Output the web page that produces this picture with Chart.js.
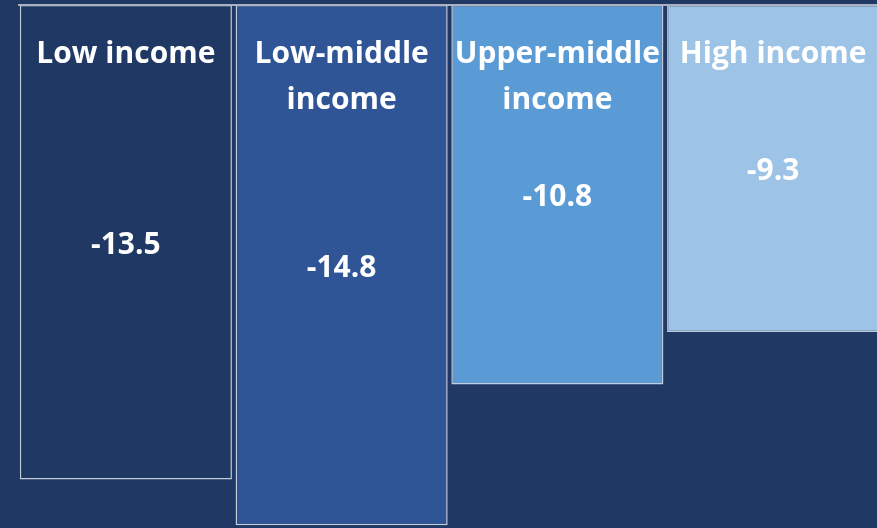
<!DOCTYPE html>
<html>
<head>
<meta charset="utf-8">
<script src="https://cdn.jsdelivr.net/npm/chart.js@4"></script>
<style>
  html, body { margin: 0; padding: 0; background: #1f3864; overflow: hidden; }
  #wrap { width: 881px; height: 528px; }
</style>
</head>
<body>
<div id="wrap"><canvas id="chart"></canvas></div>
<script>
const categories = [['Low income'], ['Low-middle', 'income'], ['Upper-middle', 'income'], ['High income']];
const values = [-13.5, -14.8, -10.8, -9.3];
const barColors = ['#1f3864', '#2f5597', '#5b9bd5', '#9dc3e6'];

const labelFont = 'bold 30px "Open Sans"';

const labelsPlugin = {
    id: 'barLabels',
    afterDatasetsDraw(chart) {
        const ctx = chart.ctx;
        const y = chart.scales.y;
        const area = chart.chartArea;
        const zero = y.getPixelForValue(0);

        // axis line along the zero value
        ctx.save();
        ctx.strokeStyle = '#a9b1c2';
        ctx.lineWidth = 2;
        ctx.beginPath();
        ctx.moveTo(area.left, zero);
        ctx.lineTo(area.right, zero);
        ctx.stroke();

        ctx.fillStyle = '#ffffff';
        ctx.font = labelFont;
        ctx.textAlign = 'center';
        ctx.textBaseline = 'middle';
        const meta = chart.getDatasetMeta(0);
        meta.data.forEach((bar, i) => {
            categories[i].forEach((line, j) => {
                ctx.fillText(line, bar.x, zero + 49 + j * 46);
            });
            const mid = (bar.y + bar.base) / 2;
            ctx.fillText(values[i].toFixed(1), bar.x, mid + 3);
        });
        ctx.restore();
    }
};

new Chart(document.getElementById('chart'), {
    type: 'bar',
    data: {
        labels: categories,
        datasets: [{
            data: values,
            backgroundColor: barColors,
            borderColor: '#c5ccd9',
            borderWidth: 1.5,
            borderSkipped: false,
            barPercentage: 0.983,
            categoryPercentage: 1
        }]
    },
    options: {
        responsive: true,
        maintainAspectRatio: false,
        animation: false,
        layout: { padding: { left: 18, top: 5, right: 0, bottom: 0 } },
        plugins: { legend: { display: false }, tooltip: { enabled: false } },
        scales: {
            x: { display: false },
            y: { display: false, min: -14.88, max: 0 }
        }
    },
    plugins: [labelsPlugin]
});
</script>
</body>
</html>
